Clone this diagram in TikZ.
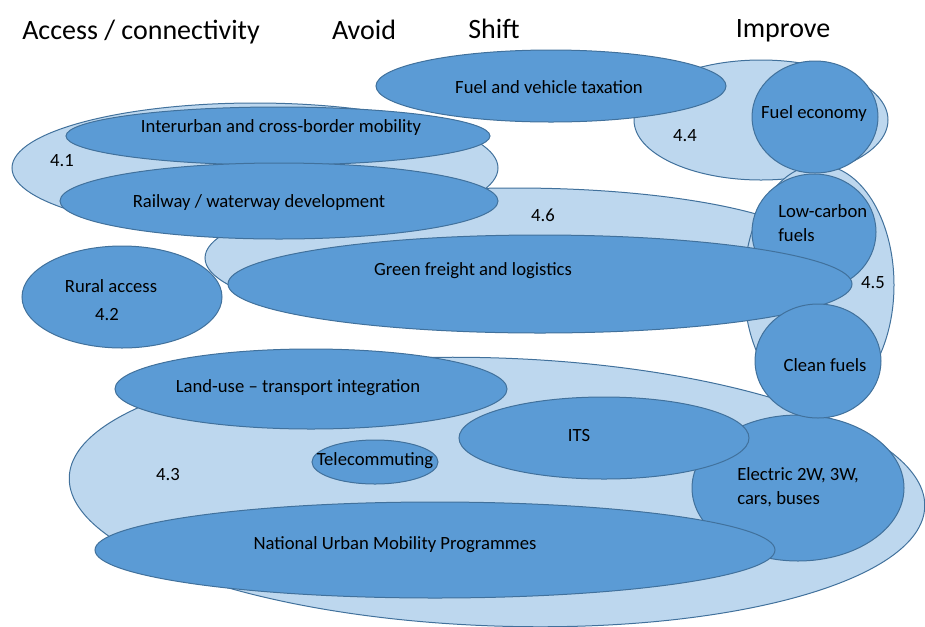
\documentclass[tikz,border=0pt]{standalone}
\usepackage{fontspec}
\setmainfont{Carlito}
\definecolor{darkblue}{HTML}{5B9BD5}
\definecolor{paleblue}{HTML}{BDD7EE}
\definecolor{edgeblue}{HTML}{41719C}

\begin{document}
\begin{tikzpicture}[x=0.75pt,y=-0.75pt,
    outer/.style={fill=paleblue,draw=edgeblue,line width=0.75pt},
    inner/.style={fill=darkblue,draw=edgeblue,line width=0.75pt},
    txt/.style={font=\fontsize{14}{18}\selectfont,inner sep=0pt},
    head/.style={font=\fontsize{21}{25}\selectfont,inner sep=0pt}]
  \useasboundingbox (0,0) rectangle (925,626);

  % headings
  \node[head,anchor=base west] (access) at (22,39) {Access / connectivity};
  \node[head,anchor=base] (avoid) at (364,39) {Avoid};
  \node[head,anchor=base] (shift) at (494,38) {Shift};
  \node[head,anchor=base] (improve) at (783,37) {Improve};

  % pale groups
  \draw[outer] (515,258) ellipse (310 and 70);
  \draw[outer] (255,168) ellipse (243 and 65);
  \draw[outer] (761,120) ellipse (127 and 60);
  \draw[outer] (819,285) ellipse (75 and 120);
  \draw[outer,rotate around={-2:(497,492)}] (497,492) ellipse (428 and 134);

  % upper measures
  \draw[inner] (278,136) ellipse (212 and 29);
  \draw[inner] (279,201) ellipse (219 and 38);
  \draw[inner] (551,86) ellipse (175 and 36);
  \draw[inner] (122,297) ellipse (100 and 51);
  \draw[inner] (815,117) ellipse (63 and 56);
  \draw[inner] (814,232) ellipse (62 and 58);
  \draw[inner] (540,284) ellipse (312 and 49);

  % lower measures
  \draw[inner] (311,389) ellipse (196 and 40);
  \draw[inner] (798,488) ellipse (106 and 73);
  \draw[inner] (604,438) ellipse (145 and 41);
  \draw[inner] (375,462) ellipse (63 and 22);
  \draw[inner] (435,550) ellipse (340 and 48);
  \draw[inner] (818,361) ellipse (63 and 57);

  % labels
  \node[txt] (interurban) at (281,128) {Interurban and cross-border mobility};
  \node[txt] (railway) at (259,203) {Railway / waterway development};
  \node[txt] (taxation) at (549,87) {Fuel and vehicle taxation};
  \node[txt] (rural) at (111,286) {Rural access};
  \node[txt] (economy) at (814,114) {Fuel economy};
  \node[txt,anchor=west,align=left] (lowcarbon) at (778,223) {Low-carbon\\fuels};
  \node[txt] (freight) at (473,271) {Green freight and logistics};
  \node[txt] (landuse) at (298,388) {Land-use -- transport integration};
  \node[txt] (its) at (579,435) {ITS};
  \node[txt] (telework) at (375,461) {Telecommuting};
  \node[txt,anchor=west,align=left] (electric) at (737,487) {Electric 2W, 3W,\\cars, buses};
  \node[txt] (urban) at (395,545) {National Urban Mobility Programmes};
  \node[txt] (clean) at (825,365) {Clean fuels};

  % group numbers
  \node[txt] (g41) at (62,161) {4.1};
  \node[txt] (g42) at (107,315) {4.2};
  \node[txt] (g43) at (168,475) {4.3};
  \node[txt] (g44) at (685,136) {4.4};
  \node[txt] (g45) at (873,283) {4.5};
  \node[txt] (g46) at (543,215) {4.6};
\end{tikzpicture}
\end{document}
